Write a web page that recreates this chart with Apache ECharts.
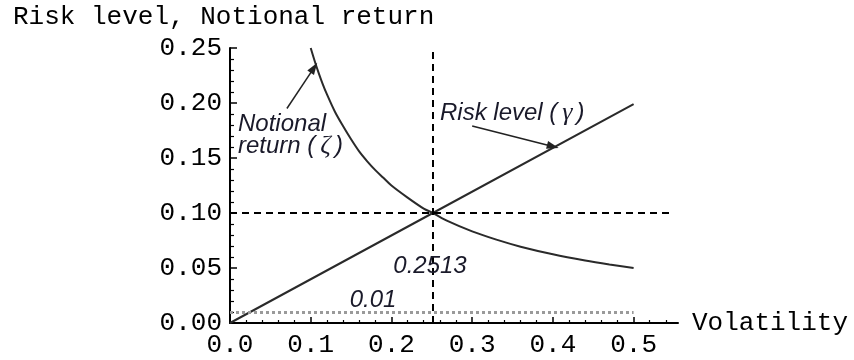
<!DOCTYPE html>
<html>
<head>
<meta charset="utf-8">
<script src="https://cdn.jsdelivr.net/npm/echarts@6/dist/echarts.min.js"></script>
<style>
  html, body { margin: 0; padding: 0; background: #fff; }
  #chart { width: 854px; height: 360px; }
</style>
</head>
<body>
<div id="chart"></div>
<script>
// Volatility values where each curve was sampled
const riskVol = [0, 0.2513, 0.5];
const riskLevel = [0, 0.1, 0.199];

const notionalVol = [0.1, 0.105, 0.11, 0.115, 0.12, 0.13, 0.14, 0.15, 0.16, 0.17, 0.18, 0.19, 0.2, 0.22, 0.24, 0.2513, 0.27, 0.3, 0.33, 0.36, 0.4, 0.44, 0.47, 0.5];
const notionalReturn = [0.25, 0.238, 0.227, 0.217, 0.208, 0.192, 0.179, 0.167, 0.156, 0.147, 0.139, 0.132, 0.125, 0.114, 0.104, 0.1, 0.0926, 0.0833, 0.0758, 0.0694, 0.0625, 0.0568, 0.0532, 0.05];

// Crossing point and floor level
const crossVol = 0.2513;
const crossLevel = 0.1;
const floorLevel = 0.01;
const floorEnd = 0.5;
const crossLineEnd = 0.545;

// Axis tick values
const xTicks = [0, 0.1, 0.2, 0.3, 0.4, 0.5];
const yTicks = [0, 0.05, 0.1, 0.15, 0.2, 0.25];

const mono = 'Liberation Mono, Courier New, monospace';
const sans = 'Liberation Sans, Arial, sans-serif';
const serif = 'Liberation Serif, Times New Roman, serif';
const ink = '#1a1a2a';

const toPairs = (xs, ys) => xs.map((x, i) => [x, ys[i]]);

const chart = echarts.init(document.getElementById('chart'), null, { renderer: 'canvas' });

const axisCommon = {
  type: 'value',
  splitLine: { show: false },
  minorSplitLine: { show: false },
  axisLine: { show: true, onZero: false, lineStyle: { color: '#000', width: 2 } },
  axisTick: { show: true, inside: true, lineStyle: { color: '#000', width: 1.5 } },
  minorTick: { show: true, splitNumber: 5, lineStyle: { color: '#000', width: 1.2 } },
  axisLabel: { fontFamily: mono, fontSize: 26, color: '#000' }
};

const greekRich = {
  a: { font: 'italic 24px ' + sans, fill: ink },
  g: { font: 'italic 26px ' + serif, fill: ink, padding: [0, 4, 0, 5] }
};

chart.setOption({
  animation: false,
  backgroundColor: '#fff',
  grid: { left: 230, top: 48, right: 176, bottom: 37, containLabel: false, outerBoundsMode: 'none' },
  xAxis: Object.assign({}, axisCommon, {
    min: 0, max: 0.555, interval: 0.1,
    axisTick: Object.assign({}, axisCommon.axisTick, { length: 6, customValues: xTicks }),
    minorTick: Object.assign({}, axisCommon.minorTick, { length: 3 }),
    axisLabel: Object.assign({}, axisCommon.axisLabel, {
      customValues: xTicks, margin: 9, formatter: v => v.toFixed(1)
    }),
    name: 'Volatility', nameLocation: 'end', nameGap: 14,
    nameTextStyle: { fontFamily: mono, fontSize: 26, color: '#000', verticalAlign: 'middle' }
  }),
  yAxis: Object.assign({}, axisCommon, {
    min: 0, max: 0.25, interval: 0.05,
    axisTick: Object.assign({}, axisCommon.axisTick, { length: 7, customValues: yTicks }),
    minorTick: Object.assign({}, axisCommon.minorTick, { length: 4 }),
    axisLabel: Object.assign({}, axisCommon.axisLabel, {
      customValues: yTicks, margin: 8, formatter: v => v.toFixed(2)
    })
  }),
  series: [
    {
      name: 'Risk level',
      type: 'line',
      data: toPairs(riskVol, riskLevel),
      showSymbol: false,
      lineStyle: { color: '#2a2a2a', width: 2 },
      z: 3,
      markLine: {
        silent: true,
        symbol: ['none', 'none'],
        label: { show: false },
        data: [
          [{ coord: [crossVol, 0], lineStyle: { color: '#000', width: 2, type: [7, 5] } },
           { coord: [crossVol, 0.25] }],
          [{ coord: [0, crossLevel], lineStyle: { color: '#000', width: 2, type: [7, 5] } },
           { coord: [crossLineEnd, crossLevel] }],
          [{ coord: [0, floorLevel], lineStyle: { color: '#9a9a9a', width: 3, type: [3, 3] } },
           { coord: [floorEnd, floorLevel] }]
        ]
      }
    },
    {
      name: 'Notional return',
      type: 'line',
      data: toPairs(notionalVol, notionalReturn),
      smooth: 0.3,
      showSymbol: false,
      lineStyle: { color: '#2a2a2a', width: 2 },
      z: 3,
      markLine: {
        silent: true,
        symbol: ['none', 'triangle'],
        symbolSize: [8, 12],
        label: { show: false },
        lineStyle: { color: '#222', width: 1.5, type: 'solid' },
        data: [
          [{ coord: [0.0705, 0.195] }, { coord: [0.104, 0.232] }],
          [{ coord: [0.3, 0.179] }, { coord: [0.4, 0.1605] }]
        ]
      }
    }
  ],
  graphic: [
    { type: 'text', left: 13, top: 4, z: 10,
      style: { text: 'Risk level, Notional return', font: '26px ' + mono, fill: '#000' } },
    { type: 'text', x: 238, y: 124, z: 10,
      style: { text: 'Notional', font: 'italic 24px ' + sans, fill: ink, verticalAlign: 'middle' } },
    { type: 'text', x: 238, y: 146, z: 10,
      style: { text: '{a|return (}{g|ζ}{a|)}', verticalAlign: 'middle', rich: greekRich } },
    { type: 'text', x: 440, y: 113, z: 10,
      style: { text: '{a|Risk level (}{g|γ}{a|)}', verticalAlign: 'middle', rich: greekRich } },
    { type: 'text', x: 430, y: 266, z: 10,
      style: { text: '0.2513', font: 'italic 24px ' + sans, fill: ink, align: 'center', verticalAlign: 'middle' } },
    { type: 'text', x: 373, y: 300, z: 10,
      style: { text: '0.01', font: 'italic 24px ' + sans, fill: ink, align: 'center', verticalAlign: 'middle' } }
  ]
});
</script>
</body>
</html>
